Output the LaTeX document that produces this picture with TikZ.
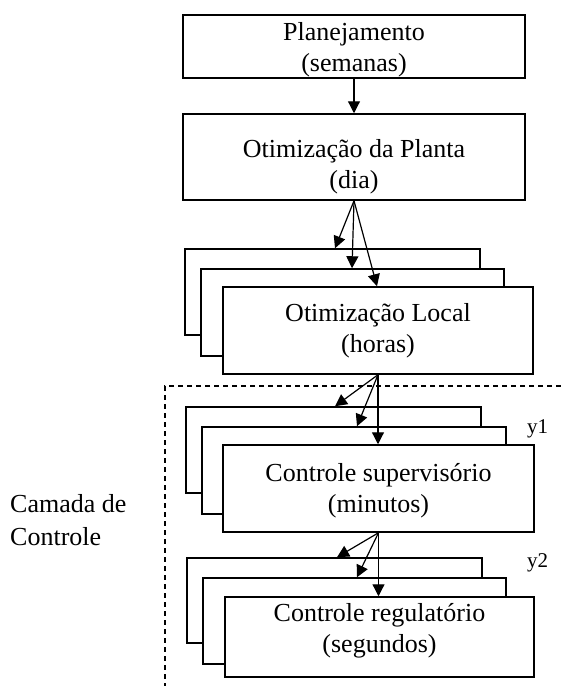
\documentclass[tikz,border=0pt]{standalone}
\usepackage{fontspec}
\setmainfont{Liberation Serif}
\usetikzlibrary{arrows.meta}
\begin{document}
\begin{tikzpicture}[x=1pt,y=-1pt,
  box/.style={draw, line width=1.5pt, fill=white, inner sep=0pt},
  txt/.style={font=\fontsize{26}{31}\selectfont, align=center, inner sep=0pt},
  side/.style={font=\fontsize{26}{31}\selectfont, inner sep=0pt, anchor=base west},
  ylbl/.style={font=\fontsize{21}{25}\selectfont, inner sep=0pt, anchor=base west},
  arr/.style={line width=1.2pt, -{Triangle[length=12pt,width=12pt]}},
  frame/.style={line width=1.1pt, dash pattern=on 5pt off 4pt}]
\useasboundingbox (0,0) rectangle (561,686);

% planning and plant optimisation
\node[box, minimum width=342pt, minimum height=63pt] (plan) at (354,46.5) {};
\node[txt] (plant) at (354,50) {Planejamento\\(semanas)};
\node[box, minimum width=342pt, minimum height=86pt] (opt) at (354,157) {};
\node[txt] (optt) at (354,167) {Otimização da Planta\\(dia)};

% local optimisation stack
\node[box, minimum width=295pt, minimum height=86pt] (l3a) at (332.5,292) {};
\node[box, minimum width=303pt, minimum height=87pt] (l3b) at (352.5,312.5) {};
\node[box, minimum width=310pt, minimum height=87pt] (l3c) at (378,330.5) {};
\node[txt] (l3t) at (378,331) {Otimização Local\\(horas)};

% supervisory control stack
\node[box, minimum width=295pt, minimum height=86pt] (l4a) at (333.5,450) {};
\node[box, minimum width=304pt, minimum height=87pt] (l4b) at (354,470.5) {};
\node[box, minimum width=311pt, minimum height=87pt] (l4c) at (378.5,488.5) {};
\node[txt] (l4t) at (378.5,491) {Controle supervisório\\(minutos)};

% regulatory control stack
\node[box, minimum width=295pt, minimum height=85pt] (l5a) at (334.5,600.5) {};
\node[box, minimum width=303pt, minimum height=86pt] (l5b) at (354.5,621) {};
\node[box, minimum width=309pt, minimum height=80pt] (l5c) at (379.5,637) {};
\node[txt] (l5t) at (379.5,631) {Controle regulatório\\(segundos)};

% connectors
\draw[arr] (plan.south) -- (opt.north);
\draw[arr] (opt.south) -- (335,0 |- l3a.north);
\draw[arr] (opt.south) -- (352,0 |- l3b.north);
\draw[arr] (opt.south) -- (377,0 |- l3c.north);
\draw[arr] (l3c.south) -- (335,0 |- l4a.north);
\draw[arr] (l3c.south) -- (357,0 |- l4b.north);
\draw[arr] (l3c.south) -- (l3c.south |- l4c.north);
\draw[arr] (l4c.south) -- (337,0 |- l5a.north);
\draw[arr] (l4c.south) -- (357,0 |- l5b.north);
\draw[arr] (l4c.south) -- (l4c.south |- l5c.north);

% control layer boundary
\coordinate (fr) at (561,386);
\coordinate (fc) at (165,386);
\coordinate (fb) at (165,686);
\draw[frame] (fr) -- (fc) -- (fb);

% labels
\node[side] (cam1) at (10,512) {Camada de};
\node[side] (cam2) at (10,545) {Controle};
\node[ylbl] (y1) at (527,433) {y1};
\node[ylbl] (y2) at (527,567) {y2};
\end{tikzpicture}
\end{document}
